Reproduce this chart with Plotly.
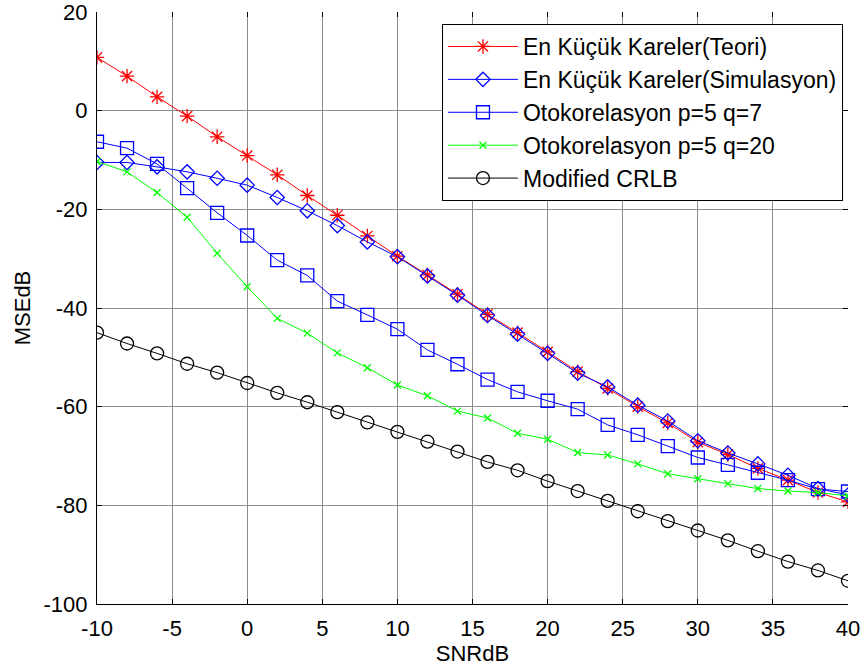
import plotly.graph_objects as go

# SNR sweep (dB)
snr = [-10, -8, -6, -4, -2, 0, 2, 4, 6, 8, 10, 12, 14, 16, 18, 20,
       22, 24, 26, 28, 30, 32, 34, 36, 38, 40]

# MSE (dB) per estimator
ls_theory = [10.8, 7.0, 2.8, -1.1, -5.3, -9.1, -13.0, -17.2, -21.2, -25.4,
             -29.5, -33.3, -37.2, -41.3, -45.0, -48.9, -52.9, -56.3, -60.0,
             -63.3, -67.2, -69.7, -72.5, -74.9, -77.4, -79.3]
ls_sim = [-10.5, -10.5, -11.4, -12.4, -13.7, -15.1, -17.6, -20.3, -23.3, -26.6,
          -29.6, -33.5, -37.4, -41.5, -45.3, -49.2, -53.2, -56.0, -59.7,
          -62.9, -66.9, -69.4, -71.6, -73.9, -76.6, -77.9]
acf_q7 = [-6.3, -7.6, -10.8, -15.7, -20.7, -25.3, -30.3, -33.4, -38.6, -41.4,
          -44.3, -48.5, -51.4, -54.5, -57.0, -58.8, -60.5, -63.7, -65.7,
          -68.0, -70.3, -71.8, -73.4, -74.9, -76.7, -77.2]
acf_q20 = [-10.3, -12.4, -16.6, -21.6, -28.9, -35.7, -42.1, -45.1, -49.1, -52.1,
           -55.6, -57.8, -60.9, -62.3, -65.4, -66.6, -69.3, -69.8, -71.6,
           -73.6, -74.6, -75.6, -76.6, -77.1, -77.4, -78.1]
crlb = [-45.0, -47.2, -49.2, -51.3, -53.1, -55.2, -57.2, -59.1, -61.1, -63.2,
        -65.1, -67.1, -69.1, -71.2, -72.9, -75.1, -77.1, -79.1, -81.2, -83.2,
        -85.1, -87.1, -89.3, -91.4, -93.2, -95.3]

x_ticks = [-10, -5, 0, 5, 10, 15, 20, 25, 30, 35, 40]
x_labels = ["-10", "-5", "0", "5", "10", "15", "20", "25", "30", "35", "40"]
y_ticks = [-100, -80, -60, -40, -20, 0, 20]
y_labels = ["-100", "-80", "-60", "-40", "-20", "0", "20"]

series = [
    ("En Küçük Kareler(Teori)", ls_theory, "#ff0000", "asterisk-open", 12),
    ("En Küçük Kareler(Simulasyon)", ls_sim, "#0000ff", "diamond-open", 11),
    ("Otokorelasyon p=5 q=7", acf_q7, "#0000ff", "square-open", 13),
    ("Otokorelasyon p=5 q=20", acf_q20, "#00ff00", "x-thin-open", 7),
    ("Modified CRLB", crlb, "#000000", "circle-open", 13),
]

FONT = "Liberation Sans, Arial, sans-serif"

fig = go.Figure()
for i, (name, vals, color, sym, size) in enumerate(series):
    fig.add_trace(go.Scatter(
        x=snr, y=vals, name=name, mode="lines+markers",
        legendgroup=f"g{i}",
        line=dict(color=color, width=1),
        marker=dict(symbol=sym, size=size, color=color,
                    line=dict(color=color, width=1.3)),
    ))

# invisible trace that carries the mirrored top/right tick axes
fig.add_trace(go.Scatter(x=[snr[0]], y=[crlb[0]], xaxis="x2", yaxis="y2",
                         mode="markers", marker=dict(opacity=0),
                         showlegend=False, hoverinfo="skip"))

grid = "#8c8c8c"
common = dict(ticks="inside", ticklen=5, tickcolor="black", tickwidth=1,
              showgrid=True, gridcolor=grid, gridwidth=1, zeroline=False,
              showline=True, linecolor="black", linewidth=1, automargin=False,
              ticklabeloverflow="allow",
              tickfont=dict(family=FONT, size=22, color="black"))
mirror = dict(ticks="inside", ticklen=5, tickcolor="black", tickwidth=1,
              showticklabels=False, showgrid=False, showline=False,
              zeroline=False, automargin=False)

fig.update_layout(
    width=864, height=672,
    margin=dict(l=97, r=16, t=12, b=68),
    paper_bgcolor="white", plot_bgcolor="white",
    font=dict(family=FONT, color="black"),
    xaxis=dict(range=[-10, 40], tickvals=x_ticks, ticktext=x_labels,
               title=dict(text="SNRdB", font=dict(family=FONT, size=22),
                          standoff=4),
               ticklabelstandoff=5, **common),
    yaxis=dict(range=[-100, 20], tickvals=y_ticks, ticktext=y_labels,
               title=dict(text="MSEdB", font=dict(family=FONT, size=22),
                          standoff=6),
               ticklabelstandoff=4, **common),
    xaxis2=dict(range=[-10, 40], tickvals=x_ticks, overlaying="x", side="top",
                **mirror),
    yaxis2=dict(range=[-100, 20], tickvals=y_ticks, overlaying="y",
                side="right", **mirror),
    legend=dict(x=0.9933, y=0.9797, xanchor="right", yanchor="top",
                bgcolor="white", bordercolor="black", borderwidth=1,
                font=dict(family=FONT, size=23, color="black"),
                tracegroupgap=0, itemwidth=70),
    showlegend=True,
)

fig.write_html("out.html")
